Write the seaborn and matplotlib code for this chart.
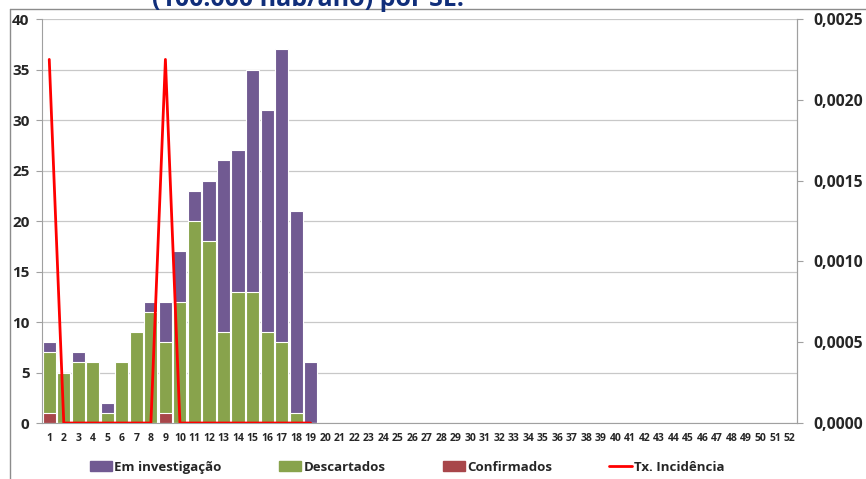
import numpy as np
import pandas as pd
import matplotlib
matplotlib.use('Agg')
import matplotlib.pyplot as plt
import seaborn as sns
from matplotlib.lines import Line2D
from matplotlib.ticker import FuncFormatter, MultipleLocator

# -----------------------------
# Data (epidemiological weeks 1-19)
# -----------------------------
weeks = list(range(1, 20))
confirmados = [1, 0, 0, 0, 0, 0, 0, 0, 1, 0, 0, 0, 0, 0, 0, 0, 0, 0, 0]
descartados = [6, 5, 6, 6, 1, 6, 9, 11, 7, 12, 20, 18, 9, 13, 13, 9, 8, 1, 0]
investigacao = [1, 0, 1, 0, 1, 0, 0, 1, 4, 5, 3, 6, 17, 14, 22, 22, 29, 20, 6]
tx_incidencia = [0.00225, 0, 0, 0, 0, 0, 0, 0, 0.00225, 0, 0, 0, 0, 0, 0, 0, 0, 0, 0]
all_weeks = [str(w) for w in range(1, 53)]

df = pd.DataFrame({
    'week': [str(w) for w in weeks],
    'conf': confirmados,
    'desc': descartados,
    'inv': investigacao,
    'tx': tx_incidencia,
})
df['conf_top'] = df['conf']
df['desc_top'] = df['conf'] + df['desc']
df['inv_top'] = df['desc_top'] + df['inv']
df['pos'] = np.array(weeks) - 1

c_inv = '#715A92'
c_desc = '#88A34C'
c_conf = '#A8464A'

sns.set_style('white')
plt.rcParams['font.family'] = ['Open Sans', 'DejaVu Sans']

fig = plt.figure(figsize=(8.66, 4.79), dpi=100)
ax = fig.add_axes([0.0485, 0.1169, 0.8718, 0.8434])

# stacked columns drawn as overlapping cumulative totals
for col, color in [('inv_top', c_inv), ('desc_top', c_desc), ('conf_top', c_conf)]:
    sns.barplot(data=df, x='week', y=col, order=all_weeks, color=color,
                width=0.9, edgecolor='white', linewidth=0.8, saturation=1, ax=ax,
                errorbar=None)

ax.set_xlim(-0.5, 51.5)
ax.set_ylim(0, 40)
ax.yaxis.set_major_locator(MultipleLocator(5))
ax.set_xlabel('')
ax.set_ylabel('')
ax.grid(axis='y', color='#C8C8C8', linewidth=0.9)
ax.set_axisbelow(True)
ax.spines['top'].set_visible(False)
for s in ['left', 'bottom', 'right']:
    ax.spines[s].set_color('#A0A0A0')
ax.tick_params(axis='x', which='major', length=0, labelsize=7.5, pad=7)
ax.set_xticks(np.arange(-0.5, 52, 1), minor=True)
ax.tick_params(axis='x', which='minor', length=4, color='#A0A0A0')
ax.tick_params(axis='y', length=4, color='#A0A0A0', labelsize=11, pad=5)
for lab in ax.get_xticklabels() + ax.get_yticklabels():
    lab.set_fontweight('bold')

ax2 = ax.twinx()
sns.lineplot(data=df, x='pos', y='tx', color='#FF0000', linewidth=2, ax=ax2)
ax2.set_ylim(0, 0.0025)
ax2.yaxis.set_major_locator(MultipleLocator(0.0005))
ax2.yaxis.set_major_formatter(FuncFormatter(lambda v, p: f'{v:.4f}'.replace('.', ',')))
ax2.set_ylabel('')
ax2.set_xlabel('')
ax2.set_xlim(-0.5, 51.5)
for s in ['top', 'left', 'bottom']:
    ax2.spines[s].set_visible(False)
ax2.spines['right'].set_color('#A0A0A0')
ax2.tick_params(axis='y', length=4, color='#A0A0A0', labelsize=11.3, pad=8)
for lab in ax2.get_yticklabels():
    lab.set_fontweight('bold')

handles = [
    plt.Rectangle((0, 0), 1, 1, color=c_inv),
    plt.Rectangle((0, 0), 1, 1, color=c_desc),
    plt.Rectangle((0, 0), 1, 1, color=c_conf),
    Line2D([0], [0], color='#FF0000', linewidth=2),
]
labels = ['Em investigação', 'Descartados', 'Confirmados', 'Tx. Incidência']
fig.legend(handles, labels, loc='center', bbox_to_anchor=(0.47, 0.025), ncol=4,
           frameon=False, prop={'weight': 'bold', 'size': 9.5},
           handlelength=1.7, handletextpad=0.15, columnspacing=4.35)

# partially visible title at the top edge (cut off as in the source)
fig.text(0.356, 0.987, '(100.000 hab/ano) por SE.', color='#102E7A', fontsize=18,
         fontweight='bold', ha='center', va='baseline')

# chart frame lines
fig.add_artist(Line2D([10 / 866, 10 / 866], [0, 1 - 9 / 479], color='#8C8C8C', linewidth=1))
fig.add_artist(Line2D([10 / 866, 1], [1 - 9 / 479, 1 - 9 / 479], color='#8C8C8C', linewidth=1))

fig.savefig('out.png', dpi=100)
